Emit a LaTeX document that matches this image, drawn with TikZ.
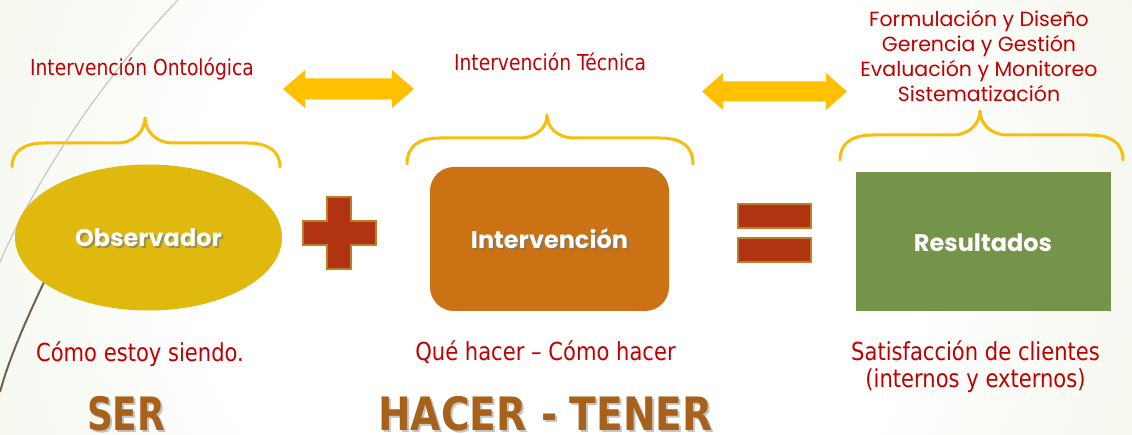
\documentclass[tikz,border=0pt]{standalone}
\usepackage{fontspec}
\usetikzlibrary{shapes.geometric}
\newfontfamily\tah[FakeStretch=0.85]{DejaVu Sans}
\newfontfamily\tahb[FakeStretch=0.78]{DejaVu Sans}
\newfontfamily\tahc[FakeStretch=0.85]{DejaVu Sans}
\newfontfamily\cg{Poppins}
\definecolor{bgg}{HTML}{DBE5C2}
\definecolor{redt}{HTML}{C00000}
\definecolor{bracec}{HTML}{F7BE0A}
\definecolor{arrowc}{HTML}{FFC000}
\definecolor{ellc}{HTML}{E0B90E}
\definecolor{rectc}{HTML}{CB7314}
\definecolor{greenc}{HTML}{76934A}
\definecolor{crossc}{HTML}{B03412}
\definecolor{crossb}{HTML}{BC7E26}
\definecolor{brownt}{HTML}{A8611A}
\definecolor{arcdark}{HTML}{6B6352}
\pgfdeclareradialshading{bgshade}{\pgfpoint{0bp}{0bp}}{color(0bp)=(white); color(9bp)=(white); color(31bp)=(bgg); color(50bp)=(bgg)}
\tikzset{
  bracestyle/.style={draw=bracec, line width=3pt, line cap=round, line join=round},
  redlabel/.style={text=redt, font=\tah\fontsize{22}{26}\selectfont, anchor=base, inner sep=0pt},
  redbig/.style={text=redt, font=\tah\fontsize{24.8}{29}\selectfont, anchor=base, inner sep=0pt, align=center},
  listlabel/.style={text=redt, font=\cg\fontsize{20.5}{25}\selectfont, anchor=base, inner sep=0pt},
  whitelabel/.style={text=white, font=\cg\bfseries\fontsize{24}{28}\selectfont, anchor=base, inner sep=0pt},
  shadowlabel/.style={text=black!55, opacity=0.6, font=\cg\bfseries\fontsize{24}{28}\selectfont, anchor=base, inner sep=0pt},
  bigbrown/.style={text=brownt, font=\tahb\bfseries\fontsize{46}{50}\selectfont, anchor=base, inner sep=0pt},
  bigshadow/.style={text=black!45, opacity=0.5, font=\tahb\bfseries\fontsize{46}{50}\selectfont, anchor=base, inner sep=0pt},
  bigbrownw/.style={bigbrown, font=\tahc\bfseries\fontsize{46}{50}\selectfont},
  bigshadoww/.style={bigshadow, font=\tahc\bfseries\fontsize{46}{50}\selectfont},
  crossstyle/.style={fill=crossc, draw=crossb, line width=1.6pt},
  arrowstyle/.style={fill=arrowc}
}
\newcommand\mybrace[6]{%
  \draw[bracestyle] (#1,#4) .. controls (#1,{#5+8}) and ({#1+12},#5) .. ({#1+33},#5)
    -- ({#3-28},#5) .. controls ({#3-10},#5) and (#3,{#6+12}) .. (#3,#6)
    .. controls (#3,{#6+12}) and ({#3+10},#5) .. ({#3+28},#5)
    -- ({#2-33},#5) .. controls ({#2-12},#5) and (#2,{#5+8}) .. (#2,#4);}
\newcommand\dblarrow[6]{%
  \fill[arrowstyle] (#1,#3) -- ({#1+#4},{#3-#5}) -- ({#1+#4},{#3-#6}) -- ({#2-#4},{#3-#6})
    -- ({#2-#4},{#3-#5}) -- (#2,#3) -- ({#2-#4},{#3+#5}) -- ({#2-#4},{#3+#6})
    -- ({#1+#4},{#3+#6}) -- ({#1+#4},{#3+#5}) -- cycle;}
\newcommand\hacertext{HACER\hspace{15pt}-\hspace{12pt}TENER}
\begin{document}
\begin{tikzpicture}[x=1pt,y=-1pt]
\useasboundingbox (0,0) rectangle (1132,435);
\begin{scope}
  \clip (0,0) rectangle (1132,435);
  \shade[shading=bgshade] (560,235) circle (1000);
  \draw[black!22, line width=1.2pt] (178,0) .. controls (110,70) and (40,170) .. (0,262);
  \draw[arcdark, line width=2pt] (62,245) .. controls (30,310) and (10,355) .. (0,392);
\end{scope}
% braces
\mybrace{12}{280}{145}{167}{143}{118}
\mybrace{407}{693}{547}{164}{138}{115}
\mybrace{840}{1123}{980}{160}{135}{111}
% arrows
\dblarrow{283}{414}{89}{22}{19}{10.5}
\dblarrow{702}{847}{91.5}{21}{18.5}{10}
% shapes
\node[ellipse, fill=ellc, minimum width=267pt, minimum height=146pt, inner sep=0pt] (obs) at (148.5,237.5) {};
\fill[rectc, rounded corners=24pt] (430,167) rectangle (669,311);
\node[inner sep=0pt, minimum width=239pt, minimum height=144pt] (int) at (549.5,239) {};
\node[fill=greenc, inner sep=0pt, minimum width=255pt, minimum height=139pt] (res) at (983.5,241.5) {};
\draw[crossstyle] (327,197) -- (351,197) -- (351,221) -- (376,221) -- (376,245) -- (351,245) -- (351,269) -- (327,269) -- (327,245) -- (303,245) -- (303,221) -- (327,221) -- cycle;
\draw[crossstyle] (738,204) rectangle (811,228);
\draw[crossstyle] (738,238) rectangle (811,262);
% labels in shapes
\node[shadowlabel] at (150.5,249) {Observador};
\node[whitelabel] (obst) at (148.5,247) {Observador};
\node[shadowlabel] at (551.5,251) {Intervención};
\node[whitelabel] (intt) at (549.5,249) {Intervención};
\node[whitelabel] (rest) at (983,252) {Resultados};
% top labels
\node[redlabel] (ont) at (142,76) {Intervención Ontológica};
\node[redlabel] (tec) at (550,71) {Intervención Técnica};
\node[listlabel] (l1) at (979,27) {Formulación y Diseño};
\node[listlabel] (l2) at (979,52) {Gerencia y Gestión};
\node[listlabel] (l3) at (979,77) {Evaluación y Monitoreo};
\node[listlabel] (l4) at (979,102) {Sistematización};
% bottom labels
\node[redbig] (como) at (140,362) {Cómo estoy siendo.};
\node[redbig] (que) at (545.5,360) {Qué hacer – Cómo hacer};
\node[redbig] (sat) at (975.5,360) {Satisfacción de clientes};
\node[redbig] (sat2) at (975.5,387) {(internos y externos)};
\node[bigshadow] at (128,432) {SER};
\node[bigbrown] (ser) at (126,430) {SER};
\node[bigshadoww] at (547.5,432) {\hacertext};
\node[bigbrownw] (hacer) at (545.5,430) {\hacertext};
\end{tikzpicture}
\end{document}
